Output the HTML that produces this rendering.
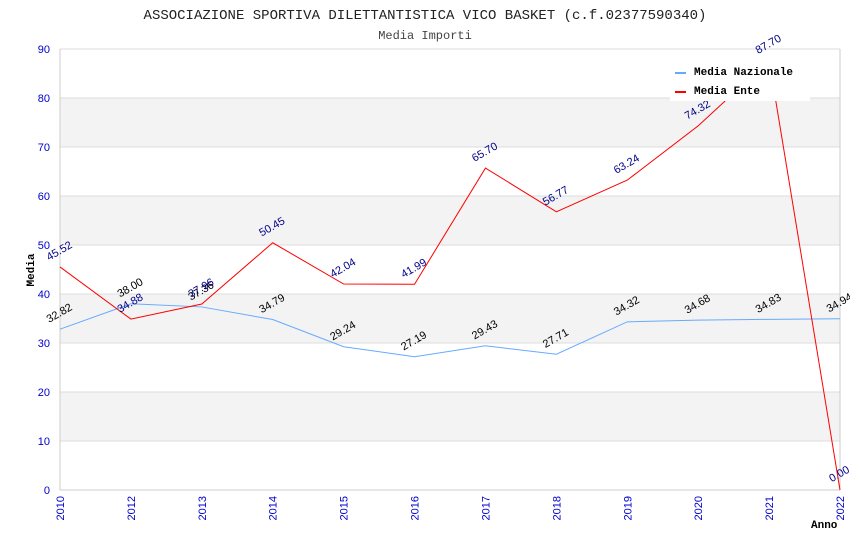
<!DOCTYPE html>
<html><head><meta charset="utf-8"><style>
body{margin:0;background:#fff}
svg text{font-family:"Liberation Mono",monospace}
svg text.s{font-family:"Liberation Sans",sans-serif}
</style></head><body>
<svg id="chart" width="850" height="550" xmlns="http://www.w3.org/2000/svg">
<text x="425" y="19" text-anchor="middle" font-size="14" fill="#222">ASSOCIAZIONE SPORTIVA DILETTANTISTICA VICO BASKET (c.f.02377590340)</text>
<text x="425" y="39" text-anchor="middle" font-size="12" fill="#444">Media Importi</text>
<g id="bands"></g><g id="grid"></g><g id="axes"></g><g id="series"></g><g id="labels"></g>
<rect x="670" y="54" width="140" height="47" fill="#fff"/>
<line x1="675" y1="73" x2="686" y2="73" stroke="#6af" stroke-width="2"/>
<text x="694" y="75" font-size="11" font-weight="bold" fill="#000">Media Nazionale</text>
<line x1="675" y1="92" x2="686" y2="92" stroke="#f00" stroke-width="2"/>
<text x="694" y="94" font-size="11" font-weight="bold" fill="#000">Media Ente</text>
<text x="34" y="270" font-size="11" font-weight="bold" fill="#000" transform="rotate(-90 34 270)" text-anchor="middle">Media</text>
<text x="811" y="528" font-size="11" font-weight="bold" fill="#000">Anno</text>
</svg>
<script>
const categories=["2010","2012","2013","2014","2015","2016","2017","2018","2019","2020","2021","2022"];
const nazionale=[32.82,38.00,37.36,34.79,29.24,27.19,29.43,27.71,34.32,34.68,34.83,34.94];
const ente=[45.52,34.88,37.96,50.45,42.04,41.99,65.70,56.77,63.24,74.32,87.70,0.00];
const yTicks=[0,10,20,30,40,50,60,70,80,90];
const NS="http://www.w3.org/2000/svg";
const L=60,R=840,T=49,B=490,yMax=90;
const xs=i=>L+i*(R-L)/(categories.length-1);
const ys=v=>B-v/yMax*(B-T);
function mk(tag,attrs,parent){const e=document.createElementNS(NS,tag);for(const k in attrs)e.setAttribute(k,attrs[k]);document.getElementById(parent).appendChild(e);return e;}
for(let i=0;i<yTicks.length-1;i++){
  if(i%2===1){const r=mk("rect",{x:L,y:ys(yTicks[i+1]),width:R-L,height:ys(yTicks[i])-ys(yTicks[i+1]),fill:"#f3f3f3"},"bands");
  
  }
}
yTicks.forEach(v=>{
  const g=mk("line",{x1:L,x2:R,y1:ys(v),y2:ys(v),stroke:"#ddd"},"grid");
  
  
  const t=mk("text",{x:L-10,y:ys(v)+4,"text-anchor":"end","font-size":11,fill:"#00c",class:"s"},"axes");
  t.textContent=v;
  
  
});
mk("line",{x1:L,x2:L,y1:T,y2:B,stroke:"#ccc"},"axes");
mk("line",{x1:R,x2:R,y1:T,y2:B,stroke:"#ccc"},"axes");
mk("line",{x1:L,x2:R,y1:B,y2:B,stroke:"#ccc"},"axes");
categories.forEach((c,i)=>{
  const x=xs(i);
  const t=mk("text",{x:x+4,y:B+6,"text-anchor":"end","font-size":11,fill:"#00c",class:"s",transform:`rotate(-90 ${x+4} ${B+6})`},"axes");
  t.textContent=c;
  
  
});
function series(data,color,lblColor,name){
  const p=mk("polyline",{points:data.map((v,i)=>xs(i)+","+ys(v)).join(" "),fill:"none",stroke:color,"stroke-width":1},"series");
  
  
  data.forEach((v,i)=>{
    const x=xs(i)+1,y=ys(v)-13;
    const t=mk("text",{x:x,y:y,"text-anchor":"middle","font-size":11,fill:lblColor,class:"s",transform:`rotate(-30 ${x} ${y})`},"labels");
    t.textContent=v.toFixed(2);
    
    
  });
}
series(nazionale,"#6af","#000","nazionale");
series(ente,"#f00","#008","ente");
</script>
</body></html>
